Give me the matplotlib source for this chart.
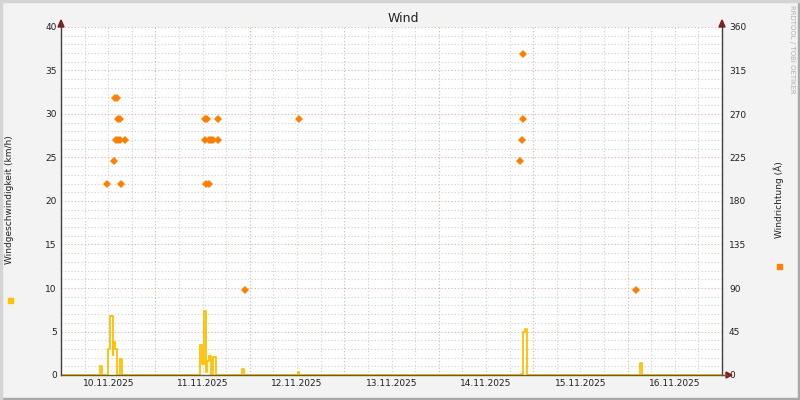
import matplotlib
matplotlib.use("Agg")
import matplotlib.pyplot as plt
from matplotlib.patches import Rectangle, Polygon

# ---- data (hours since 10.11.2025 00:00) ----
speed_hours = [0, 9.79, 10.42, 11.95, 12.58, 13.09, 13.22, 13.72, 14.11, 14.87, 15.38,
               35.33, 35.96, 36.35, 36.98, 37.23, 37.49, 38.25, 38.51, 39.27,
               46.0, 46.5, 60.24, 60.5, 116.91, 117.42, 117.93, 118.44,
               147.16, 147.67, 168]
speed_kmh = [0, 1.0, 0, 3.0, 6.8, 2.3, 3.8, 3.0, 0, 1.8, 0,
             3.4, 1.3, 7.3, 0.3, 1.6, 2.2, 0, 2.1, 0,
             0.7, 0, 0.3, 0, 0.1, 5.0, 5.3, 0,
             1.4, 0, 0]

dir_hours = [11.69, 15.33, 13.47, 13.98, 14.49, 15.0, 16.27, 14.61, 15.12, 13.85, 14.23,
             36.85, 37.49, 36.6, 37.62, 38.12, 38.63, 39.9, 36.6, 37.23, 39.98,
             46.77, 60.49, 117.5, 117.5, 117.24, 116.74, 146.14]
dir_deg = [198, 198, 221, 243, 243, 243, 243, 265, 265, 287, 287,
           198, 198, 243, 243, 243, 243, 243, 265, 265, 265,
           88, 265, 332, 265, 243, 221, 88]

day_labels = ["10.11.2025", "11.11.2025", "12.11.2025", "13.11.2025",
              "14.11.2025", "15.11.2025", "16.11.2025"]
left_ticks = [0, 5, 10, 15, 20, 25, 30, 35, 40]
right_ticks = [0, 45, 90, 135, 180, 225, 270, 315, 360]

# ---- figure ----
W, H = 800, 400
fig = plt.figure(figsize=(8, 4), dpi=100, facecolor="#F3F3F3")
FONT = "DejaVu Sans"
TXT = "#202020"

# frame shading
fig.patches.append(Rectangle((0, 0), 1, 2 / H, transform=fig.transFigure, color="#A8A8A8", zorder=0))
fig.patches.append(Rectangle((1 - 2 / W, 0), 2 / W, 1, transform=fig.transFigure, color="#A8A8A8", zorder=0))
fig.patches.append(Rectangle((0, 1 - 2 / H), 1, 2 / H, transform=fig.transFigure, color="#D4D4D4", zorder=0))
fig.patches.append(Rectangle((0, 0), 2 / W, 1, transform=fig.transFigure, color="#D4D4D4", zorder=0))

x0, x1, y0, y1 = 61, 722, 27, 375
ax = fig.add_axes([x0 / W, 1 - y1 / H, (x1 - x0) / W, (y1 - y0) / H])
ax.set_facecolor("white")
ax.set_xlim(0, 168)
ax.set_ylim(0, 40)

# grid
dots = (0, (1.0, 2.0))
for h in range(6, 168, 6):
    if h % 24:
        ax.axvline(h, color="#CFCFCF", lw=0.8, ls=dots, zorder=1)
for h in range(24, 168, 24):
    ax.axvline(h, color="#EBAAAA", lw=0.8, ls=dots, zorder=1)
for v in range(1, 40):
    if v % 5:
        ax.axhline(v, color="#CFCFCF", lw=0.8, ls=dots, zorder=1)
for v in range(5, 41, 5):
    ax.axhline(v, color="#EBAAAA", lw=0.8, ls=dots, zorder=1)

# speed line
ax.plot(speed_hours, speed_kmh, drawstyle="steps-post", color="#FFC000", lw=1.3, zorder=3)

for s in ax.spines.values():
    s.set_visible(False)
ax.set_xticks([12 + 24 * i for i in range(7)])
ax.set_xticklabels(day_labels, fontsize=6.5, family=FONT, color=TXT)
ax.set_yticks(left_ticks)
ax.set_yticklabels([str(t) for t in left_ticks], fontsize=6.5, family=FONT, color=TXT)
ax.tick_params(axis="both", length=0, pad=3)

ax2 = ax.twinx()
ax2.set_ylim(0, 360)
ax2.set_yticks(right_ticks)
ax2.set_yticklabels([str(t) for t in right_ticks], fontsize=6.5, family=FONT, color=TXT)
ax2.tick_params(axis="y", length=0, pad=5)
for s in ax2.spines.values():
    s.set_visible(False)
ax2.plot(dir_hours, dir_deg, ls="none", marker="D", markersize=3.6,
         color="#FF8000", markeredgewidth=0, zorder=4)

# axes lines with arrows
def fx(px):
    return px / W

def fy(py):
    return 1 - py / H

axis_col = "#404040"
arrow_col = "#8B1A1A"
fig.add_artist(plt.Line2D([fx(x0), fx(x0)], [fy(y1), fy(22)], color=axis_col, lw=1))
fig.add_artist(plt.Line2D([fx(x1), fx(x1)], [fy(y1), fy(22)], color=axis_col, lw=1))
fig.add_artist(plt.Line2D([fx(x0), fx(727)], [fy(y1), fy(y1)], color="#6B5A30", lw=1))
for xa in (x0, x1):
    fig.add_artist(Polygon([(fx(xa - 3), fy(27)), (fx(xa + 3), fy(27)), (fx(xa), fy(20))],
                           closed=True, color=arrow_col, transform=fig.transFigure))
fig.add_artist(Polygon([(fx(726), fy(372)), (fx(726), fy(378)), (fx(732), fy(375))],
                       closed=True, color=arrow_col, transform=fig.transFigure))

# titles and labels
fig.text(fx(403), fy(18), "Wind", ha="center", va="center", fontsize=9, family=FONT, color=TXT)
fig.text(fx(10), fy(200), "Windgeschwindigkeit (km/h)", rotation=90, ha="center", va="center",
         fontsize=6.5, family=FONT, color=TXT)
fig.text(fx(779), fy(200), "Windrichtung (Â)", rotation=90, ha="center", va="center",
         fontsize=6.5, family=FONT, color=TXT)
fig.patches.append(Rectangle((fx(7.5), fy(303)), 5 / W, 5 / H, transform=fig.transFigure, color="#FFC000"))
fig.patches.append(Rectangle((fx(776.5), fy(269)), 5 / W, 5 / H, transform=fig.transFigure, color="#FF8000"))
fig.text(fx(792), fy(5), "RRDTOOL / TOBI OETIKER", rotation=270, ha="center", va="top",
         fontsize=5, family=FONT, color="#B0B0B0")

fig.savefig("out.png", dpi=100, facecolor=fig.get_facecolor())
